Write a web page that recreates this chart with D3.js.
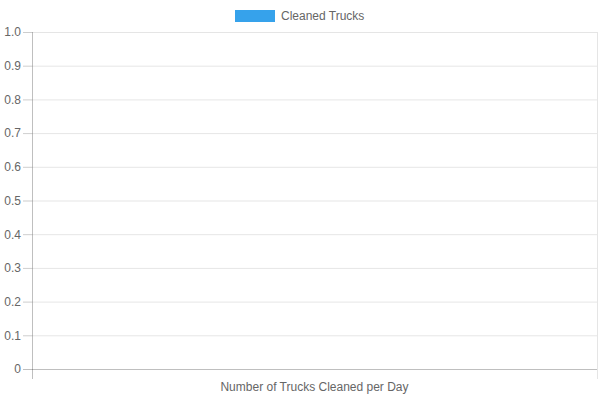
<!DOCTYPE html>
<html>
<head>
<meta charset="utf-8">
<style>
    body { margin: 0; background: #fff; }
    svg { display: block; font-family: "Liberation Sans", Arial, sans-serif; }
    .y .tick text { font-size: 12px; fill: #666; }
    .grid line { stroke: rgba(0, 0, 0, 0.1); }
    .legend-label, .axis-title { font-size: 12px; fill: #666; }
</style>
</head>
<body>
<svg width="600" height="400"></svg>
<script src="https://d3js.org/d3.v7.min.js"></script>
<script>
    // chart data: the reference shows no bars, just the empty frame
    let days = []
    let cleaned = []
    let seriesName = "Cleaned Trucks"
    let seriesColor = "#36A2EB"
    let yTicks = [0, 0.1, 0.2, 0.3, 0.4, 0.5, 0.6, 0.7, 0.8, 0.9, 1.0]
    let xTitle = "Number of Trucks Cleaned per Day"

    let margin = { top: 32, right: 3, bottom: 31, left: 32 }
    let width = 600
    let height = 400

    let svg = d3.select("svg")

    let x = d3.scaleBand().domain(days).range([margin.left, width - margin.right]).padding(0.1)
    let y = d3.scaleLinear().domain([0, 1]).range([height - margin.bottom, margin.top])

    // horizontal grid lines
    svg.append("g")
        .attr("class", "grid")
        .selectAll("line")
        .data(yTicks.filter(d => d > 0))
        .join("line")
        .attr("x1", margin.left - 9)
        .attr("x2", width - margin.right)
        .attr("y1", d => y(d) + 0.5)
        .attr("y2", d => y(d) + 0.5)

    // right edge grid line
    svg.append("line")
        .attr("x1", width - margin.right + 0.5)
        .attr("x2", width - margin.right + 0.5)
        .attr("y1", margin.top)
        .attr("y2", height - margin.bottom + 10)
        .attr("stroke", "rgba(0,0,0,0.1)")

    // y axis
    let yAxis = svg.append("g")
        .attr("class", "y axis")
        .attr("transform", `translate(${margin.left}, 0)`)
        .call(d3.axisLeft(y)
            .tickValues(yTicks)
            .tickSize(9)
            .tickPadding(2)
            .tickFormat(d => d === 0 ? "0" : d3.format(".1f")(d)))
    yAxis.select(".domain").remove()
    yAxis.selectAll(".tick line").attr("stroke", "rgba(0,0,0,0.1)")
    yAxis.selectAll(".tick").filter(d => d === 0).select("line").attr("stroke", "rgba(0,0,0,0.25)")

    // left axis line
    svg.append("line")
        .attr("x1", margin.left + 0.5)
        .attr("x2", margin.left + 0.5)
        .attr("y1", margin.top)
        .attr("y2", height - margin.bottom + 10)
        .attr("stroke", "rgba(0,0,0,0.25)")

    // zero line
    svg.append("line")
        .attr("x1", margin.left)
        .attr("x2", width - margin.right)
        .attr("y1", y(0) + 0.5)
        .attr("y2", y(0) + 0.5)
        .attr("stroke", "rgba(0,0,0,0.25)")

    // bars (none in this data)
    svg.append("g")
        .selectAll("rect")
        .data(cleaned)
        .join("rect")
        .attr("x", (d, i) => x(days[i]))
        .attr("width", x.bandwidth())
        .attr("y", d => y(d))
        .attr("height", d => y(0) - y(d))
        .attr("fill", seriesColor)

    // x axis title
    svg.append("text")
        .attr("class", "axis-title")
        .attr("x", (margin.left + width - margin.right) / 2)
        .attr("y", 391)
        .attr("text-anchor", "middle")
        .text(xTitle)

    // legend
    let legend = svg.append("g").attr("transform", "translate(235, 10)")
    legend.append("rect")
        .attr("width", 40)
        .attr("height", 12)
        .attr("fill", seriesColor)
    legend.append("text")
        .attr("class", "legend-label")
        .attr("x", 46)
        .attr("y", 10)
        .text(seriesName)
</script>
</body>
</html>
